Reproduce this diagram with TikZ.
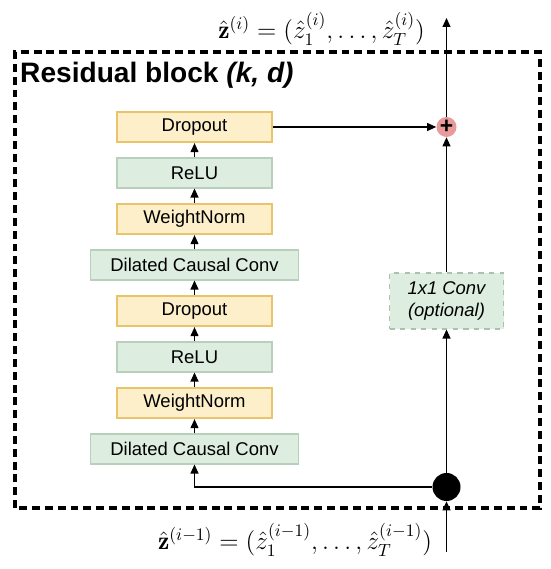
\documentclass[tikz,border=0pt]{standalone}
\usepackage{amsmath}
\usepackage{fontspec}
\setsansfont{Liberation Sans}
\usepackage{tikz}
\usetikzlibrary{arrows.meta,positioning}
\definecolor{boxyellow}{HTML}{FCEFC9}
\definecolor{lineyellow}{HTML}{E9C46A}
\definecolor{boxgreen}{HTML}{DDEDE0}
\definecolor{linegreen}{HTML}{B8CFBC}
\definecolor{addpink}{HTML}{E99A9A}
\tikzset{
  lay/.style={draw, minimum height=0.6cm, inner sep=2pt, font=\sffamily\fontsize{10.5}{12}\selectfont},
  layy/.style={lay, fill=boxyellow, draw=lineyellow, line width=1.3pt, minimum width=3.1cm},
  layg/.style={lay, fill=boxgreen, draw=linegreen, line width=.6pt, minimum width=3.1cm},
  laygw/.style={layg, minimum width=4.16cm},
  opt/.style={lay, fill=boxgreen, draw=linegreen!80!gray, dashed, line width=.6pt, minimum width=2.28cm, minimum height=1.12cm, align=center, font=\sffamily\fontsize{10.5}{13}\selectfont\itshape},
  ar/.style={-{Triangle[length=1.8mm, width=1.6mm]}, line width=.6pt, draw=black},
  frame/.style={draw, line width=1.8pt, dash pattern=on 4.5pt off 2.8pt},
  zlbl/.style={font=\fontsize{14.5}{17}\selectfont, inner sep=0pt},
}

\begin{document}
\begin{tikzpicture}
  \useasboundingbox (0,0) rectangle (11,11.38);
  \draw[frame] (0.30,1.22) rectangle (10.80,10.34);
  \node[font=\sffamily\bfseries\fontsize{16}{18}\selectfont, anchor=west] (title) at (0.28,9.88) {Residual block \textit{(k, d)}};

  % layer stack, bottom to top
  \foreach \n/\y/\s/\t in {b1/2.40/laygw/Dilated Causal Conv, b2/3.32/layy/WeightNorm,
      b3/4.24/layg/ReLU, b4/5.16/layy/Dropout, b5/6.08/laygw/Dilated Causal Conv,
      b6/7.00/layy/WeightNorm, b7/7.92/layg/ReLU, b8/8.84/layy/Dropout}{
    \node[\s] (\n) at (3.89,\y) {\t};
  }
  \foreach \a/\b in {b1/b2,b2/b3,b3/b4,b4/b5,b5/b6,b6/b7,b7/b8}{
    \draw[ar] (\a) -- (\b);
  }

  % skip branch
  \node[circle, fill=addpink, minimum size=0.4cm, inner sep=0pt, font=\sffamily\bfseries\fontsize{13}{13}\selectfont] (add) at (8.93,8.84) {+};
  \node[opt] (conv) at (8.93,5.36) {1x1 Conv\\(optional)};
  \node[circle, fill=black, minimum size=0.56cm, inner sep=0pt] (split) at (8.93,1.64) {};
  \coordinate (in) at (8.93,0.34);
  \coordinate (out) at (8.93,11.02);

  \draw[ar] (in) -- (split);
  \draw[ar] (split.west) -| (b1.south);
  \draw[ar] (split) -- (conv);
  \draw[ar] (conv) -- (add);
  \draw[ar] (b8) -- (add);
  \draw[ar] (add) -- (out);

  \node[zlbl] (zout) at (6.43,10.80) {$\hat{\mathbf{z}}^{(i)} = (\hat{z}_1^{(i)}, \ldots, \hat{z}_T^{(i)})$};
  \node[zlbl] (zin) at (5.90,0.58) {$\hat{\mathbf{z}}^{(i-1)} = (\hat{z}_1^{(i-1)}, \ldots, \hat{z}_T^{(i-1)})$};
\end{tikzpicture}
\end{document}
